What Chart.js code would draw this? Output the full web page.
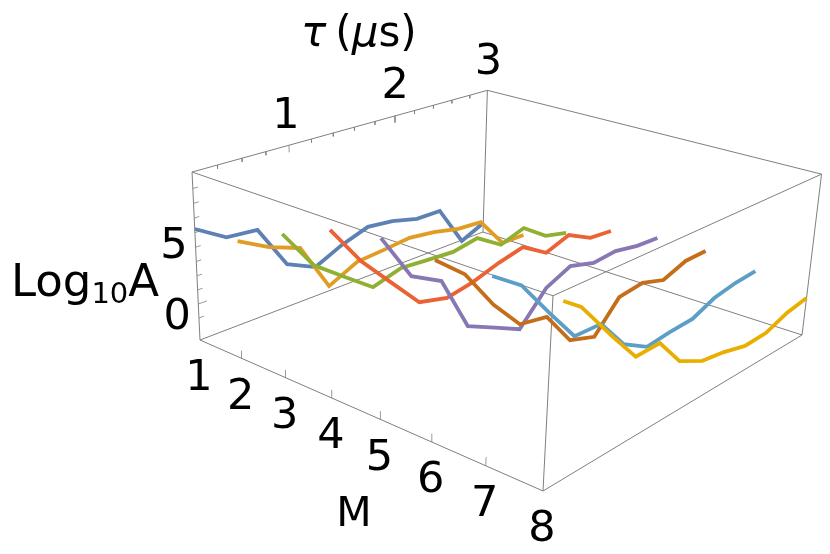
<!DOCTYPE html>
<html>
<head>
<meta charset="utf-8">
<script src="https://cdn.jsdelivr.net/npm/chart.js@4"></script>
<style>
  html, body { margin: 0; padding: 0; background: #fff; }
  canvas { display: block; }
</style>
</head>
<body>
<canvas id="myChart" width="830" height="554"></canvas>
<script>
// values: one Log10A list per M, over a shared tau grid
const mValues = [1, 2, 3, 4, 5, 6, 7, 8];
const tauGrid = [0.2, 0.45, 0.71, 0.96, 1.22, 1.47, 1.73, 1.98, 2.24, 2.49, 2.75, 3.0];
const tauM8 = [0.29, 0.45, 0.76, 1.0, 1.24, 1.47, 1.73, 1.98, 2.24, 2.49, 2.75, 3.0];

const logAM1 = [5.25, 3.99, 3.8, 0.59, -0.39, 0.57, 1.27, 1.05, 0.54, 0.52, -2.67, -1.83];
const logAM2 = [5.53, 4.41, 3.62, 0.14, 1.15, 1.31, 1.51, 1.26, 0.81, 0.68, -1.73, -1.76];
const logAM3 = [7.09, 4.31, 2.74, 1.26, 1.86, 1.7, 1.56, 1.9, 0.66, 1.28, -0.05, -0.5];
const logAM4 = [8.44, 5.73, 3.52, 1.41, 0.9, 1.26, 1.89, 2.33, 1.17, 1.82, 0.88, 0.74];
const logAM5 = [9.02, 5.93, 4.83, 1.0, 0.04, -0.91, 1.24, 2.07, 1.55, 1.71, 1.37, 1.28];
const logAM6 = [8.82, 7.22, 4.49, 2.41, 2.05, -0.4, -1.04, 1.0, 1.24, 0.69, 1.35, 1.39];
const logAM7 = [9.04, 7.73, 5.22, 2.91, 2.85, 0.64, -0.44, -0.25, -0.16, 0.56, 0.88, 1.01];
const logAM8 = [8.52, 7.67, 4.85, 2.77, 2.82, 0.82, -0.08, -0.35, -0.8, -0.74, -0.11, 0.18];

const allLogA = [logAM1, logAM2, logAM3, logAM4, logAM5, logAM6, logAM7, logAM8];
const seriesColors = ["#5E81B5", "#E19C24", "#8FB032", "#EB6235", "#8778B3", "#C56E1A", "#5D9EC7", "#E8AE00"];

// axis ranges and ticks
const mRange = [1, 8];
const tauRange = [0.2, 3.0];
const logRange = [-2.6, 9.1];
const tauTicks = [0.4, 0.6, 0.8, 1, 1.2, 1.4, 1.6, 1.8, 2, 2.2, 2.4, 2.6, 2.8];
const tauMajor = [1, 2];
const mTicks = [2, 3, 4, 5, 6, 7];
const logTicks = [-1, 0, 1, 2, 3, 4, 5, 6, 7, 8];

// perspective view of the box
function project(m, tau, logA) {
  const u = (m - mRange[0]) / (mRange[1] - mRange[0]);
  const v = (tau - tauRange[0]) / (tauRange[1] - tauRange[0]);
  const w = (logA - logRange[0]) / (logRange[1] - logRange[0]);
  const d = 1 - 0.168 * u + 0.2116 * v - 0.045 * w;
  return {
    x: (200 + 251.8 * u + 385.2 * v - 16.6 * w) / d,
    y: (340 + 68.5 * u - 58.9 * v - 175.7 * w) / d
  };
}

function greyLine(points, width) {
  return {
    data: points,
    borderColor: "#7f7f7f",
    borderWidth: width,
    pointRadius: 0,
    showLine: true,
    tension: 0,
    clip: false
  };
}

const datasets = [];

// series, M = 8 first so that it ends up on top
for (let i = mValues.length - 1; i >= 0; i--) {
  const taus = mValues[i] === 8 ? tauM8 : tauGrid;
  datasets.push({
    data: allLogA[i].map((val, k) => project(mValues[i], taus[k], val)),
    borderColor: seriesColors[i],
    borderWidth: 3.8,
    pointRadius: 0,
    showLine: true,
    tension: 0,
    borderJoinStyle: "miter",
    clip: false
  });
}

// box edges
const [m0, m1] = mRange, [t0, t1] = tauRange, [l0, l1] = logRange;
const edges = [
  [[m0, t0, l0], [m1, t0, l0]], [[m1, t0, l0], [m1, t1, l0]], [[m1, t1, l0], [m0, t1, l0]], [[m0, t1, l0], [m0, t0, l0]],
  [[m0, t0, l1], [m1, t0, l1]], [[m1, t0, l1], [m1, t1, l1]], [[m1, t1, l1], [m0, t1, l1]], [[m0, t1, l1], [m0, t0, l1]],
  [[m0, t0, l0], [m0, t0, l1]], [[m1, t0, l0], [m1, t0, l1]], [[m1, t1, l0], [m1, t1, l1]], [[m0, t1, l0], [m0, t1, l1]]
];
edges.forEach(e => datasets.push(greyLine(e.map(p => project(p[0], p[1], p[2])), 1)));

// ticks
tauTicks.forEach(t => {
  const len = tauMajor.includes(t) ? 0.5 : 0.25;
  datasets.push(greyLine([project(m0, t, l1), project(m0, t, l1 - len)], 0.8));
});
mTicks.forEach(m => {
  datasets.push(greyLine([project(m, t0, l0), project(m, t0, l0 + 0.55)], 0.8));
});
logTicks.forEach(l => {
  const len = l % 5 === 0 ? 0.07 : 0.04;
  datasets.push(greyLine([project(m0, t0, l), project(m0, t0 + len, l)], 0.8));
});

const FONT = "'DejaVu Sans', sans-serif";

// tick labels and axis titles, placed relative to their axis
const textPlugin = {
  id: "boxText",
  afterDraw(chart) {
    const c = chart.ctx;
    const sx = chart.scales.x, sy = chart.scales.y;
    c.save();
    c.fillStyle = "#000";
    c.textAlign = "center";
    c.textBaseline = "middle";
    c.font = "43px " + FONT;

    function put(text, p, dx, dy) {
      c.fillText(text, sx.getPixelForValue(p.x) + dx, sy.getPixelForValue(p.y) + dy);
    }
    [1, 2, 3].forEach(t => {
      const off = { 1: [-3, -28], 2: [0, -29], 3: [1, -28] }[t];
      put(String(t), project(m0, t, l1), off[0], off[1]);
    });
    mValues.forEach(m => {
      put(String(m), project(m, t0, l0), -1, 39);
    });
    [5, 0].forEach(l => {
      put(String(l), project(m0, t0, l), -21, 14);
    });

    // tau (mus)
    c.textAlign = "left";
    c.textBaseline = "alphabetic";
    let x = 301;
    const titleY = 46;
    [["τ", "italic", 9], ["(", "normal", 0], ["μ", "italic", 0], ["s)", "normal", 0]].forEach(part => {
      c.font = part[1] + " 42px " + FONT;
      c.fillText(part[0], x, titleY);
      x += c.measureText(part[0]).width + part[2];
    });

    // Log10A
    x = 11;
    const baseY = 296;
    c.font = "45px " + FONT;
    c.fillText("Log", x, baseY);
    x += c.measureText("Log").width;
    c.font = "29px " + FONT;
    c.fillText("10", x, baseY + 7);
    x += c.measureText("10").width;
    c.font = "45px " + FONT;
    c.fillText("A", x, baseY);

    c.textAlign = "center";
    c.font = "41px " + FONT;
    c.fillText("M", 354, 526);
    c.restore();
  }
};

new Chart(document.getElementById("myChart").getContext("2d"), {
  type: "scatter",
  data: { datasets: datasets },
  plugins: [textPlugin],
  options: {
    responsive: false,
    animation: false,
    layout: { padding: 0 },
    plugins: { legend: { display: false }, tooltip: { enabled: false } },
    scales: {
      x: { type: "linear", min: 0, max: 830, display: false },
      y: { type: "linear", min: 0, max: 554, reverse: true, display: false }
    }
  }
});
</script>
</body>
</html>
